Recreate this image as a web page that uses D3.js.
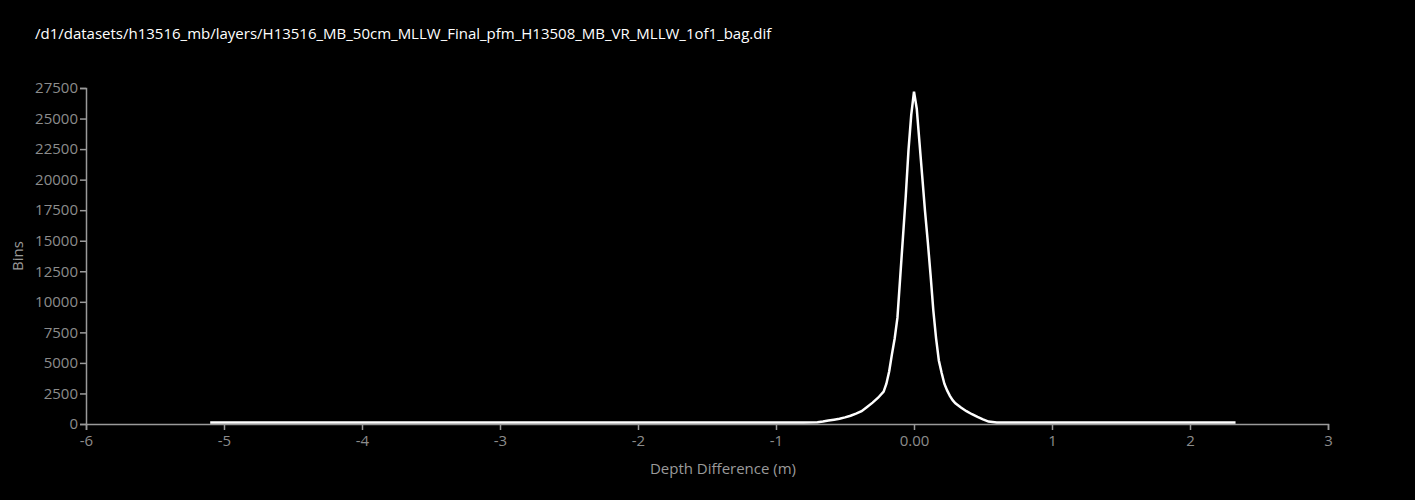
<!DOCTYPE html>
<html>
<head>
<meta charset="utf-8">
<script src="https://cdn.jsdelivr.net/npm/d3@7"></script>
<style>
  body { margin: 0; background: #000; }
  text { font-family: "Open Sans", "DejaVu Sans", sans-serif; }
</style>
</head>
<body>
<div id="histogram"></div>
<script>
var title = "/d1/datasets/h13516_mb/layers/H13516_MB_50cm_MLLW_Final_pfm_H13508_MB_VR_MLLW_1of1_bag.dif";

// depth difference (m) and bin counts
var depth = [-5.10, -4.00, -3.00, -2.00, -1.00, -0.80, -0.70,
  -0.66, -0.62, -0.58, -0.54, -0.50, -0.46, -0.42, -0.38, -0.34, -0.30,
  -0.26, -0.22, -0.20, -0.18, -0.16, -0.14, -0.12, -0.10, -0.08, -0.06,
  -0.04, -0.02, 0.00, 0.02, 0.04, 0.06, 0.08, 0.10, 0.12, 0.14, 0.16,
  0.18, 0.20, 0.22, 0.24, 0.26, 0.28, 0.30, 0.34, 0.38, 0.42, 0.46,
  0.50, 0.54, 0.60, 1.00, 1.50, 2.00, 2.33];
var bins = [120, 120, 120, 120, 120, 130, 150,
  200, 280, 350, 430, 540, 680, 850, 1050, 1400, 1750,
  2150, 2650, 3300, 4300, 5700, 7000, 8700, 12000, 15300, 18600,
  22400, 25300, 27200, 25800, 23000, 20200, 17400, 14900, 12200, 9300, 7000,
  5200, 4200, 3300, 2750, 2300, 1950, 1700, 1350, 1050, 800, 580,
  380, 200, 130, 120, 120, 120, 120];

var xTicks = [-6, -5, -4, -3, -2, -1, 0, 1, 2, 3];
var yTicks = [0, 2500, 5000, 7500, 10000, 12500, 15000, 17500, 20000, 22500, 25000, 27500];

var margin = { top: 88, right: 87, bottom: 76, left: 86 },
    width = 1415 - margin.left - margin.right,
    height = 500 - margin.top - margin.bottom;

var svg = d3.select("#histogram").append("svg")
    .attr("width", 1415)
    .attr("height", 500)
    .style("background", "#000");

svg.append("text")
    .attr("x", 35)
    .attr("y", 39)
    .attr("fill", "#fff")
    .style("font-size", "15px")
    .text(title);

var g = svg.append("g")
    .attr("transform", "translate(" + margin.left + "," + margin.top + ")");

var x = d3.scaleLinear().domain([-6, 3]).range([0, width]);
var y = d3.scaleLinear().domain([0, 27500]).range([height, 0]);

var xAxis = g.append("g")
    .attr("transform", "translate(0," + height + ")")
    .call(d3.axisBottom(x)
        .tickValues(xTicks)
        .tickSize(6)
        .tickPadding(5)
        .tickFormat(function(d) { return d === 0 ? "0.00" : d; }));

var yAxis = g.append("g")
    .call(d3.axisLeft(y).tickValues(yTicks).tickSize(6).tickFormat(function(d) { return d; }));

[xAxis, yAxis].forEach(function(a) {
  a.selectAll("path, line").attr("stroke", "#9a9a9a").attr("stroke-width", 1.5);
  a.selectAll("text").attr("fill", "#8c8c8c").style("font-size", "15px")
      .style("font-family", "'Open Sans', 'DejaVu Sans', sans-serif");
});
yAxis.selectAll("text").attr("x", -8);

g.append("text")
    .attr("transform", "rotate(-90)")
    .attr("x", -height / 2)
    .attr("y", -63)
    .attr("text-anchor", "middle")
    .attr("fill", "#9a9a9a")
    .style("font-size", "15px")
    .text("Bins");

g.append("text")
    .attr("x", x(0) - 191)
    .attr("y", height + 50)
    .attr("text-anchor", "middle")
    .attr("fill", "#9a9a9a")
    .style("font-size", "15px")
    .text("Depth Difference (m)");

var line = d3.line()
    .x(function(d, i) { return x(depth[i]); })
    .y(function(d) { return y(d); });

g.append("path")
    .datum(bins)
    .attr("fill", "none")
    .attr("stroke", "#fff")
    .attr("stroke-width", 2.5)
    .attr("d", line);
</script>
</body>
</html>
